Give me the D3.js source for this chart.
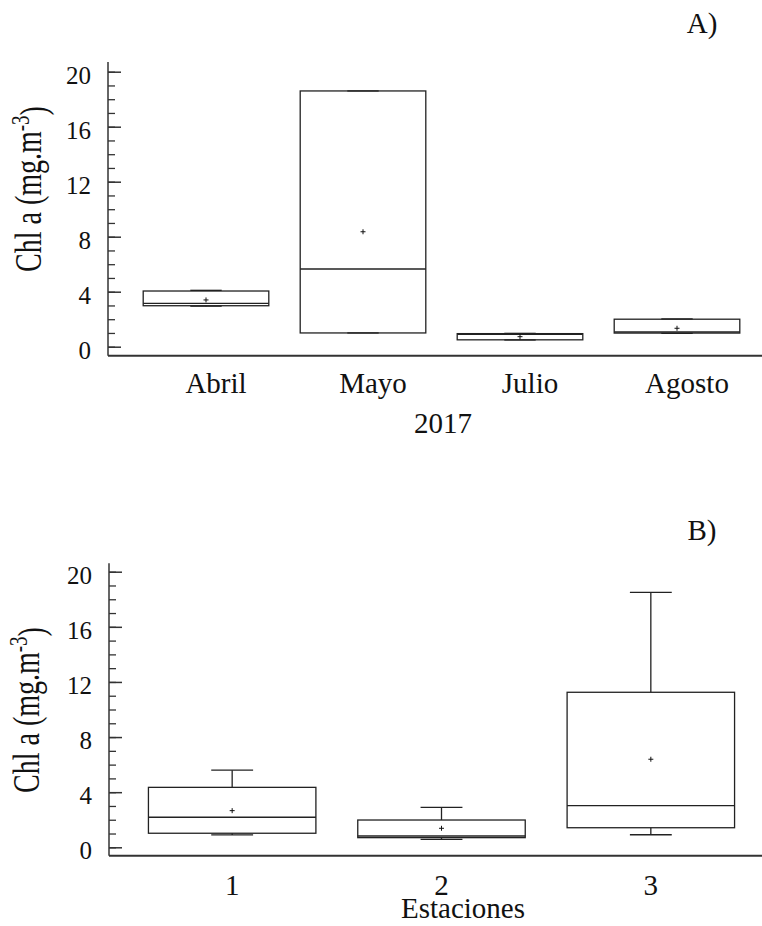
<!DOCTYPE html>
<html lang="es">
<head>
<meta charset="utf-8">
<title>Chl a</title>
<script src="https://d3js.org/d3.v7.min.js"></script>
<style>
  body { margin: 0; background: #fff; }
</style>
</head>
<body>
<div id="chart"></div>
<script>
// panel A: months of 2017
const monthCats   = ["Abril", "Mayo", "Julio", "Agosto"];
const monthMin    = [2.95, 1.0, 0.49, 0.97];
const monthQ1     = [2.98, 1.0, 0.5, 0.99];
const monthMedian = [3.15, 5.65, 0.9, 1.07];
const monthQ3     = [4.05, 18.6, 0.95, 2.0];
const monthMax    = [4.1, 18.6, 0.97, 2.02];
const monthMean   = [3.4, 8.36, 0.73, 1.34];

// panel B: stations
const stationCats   = ["1", "2", "3"];
const stationMin    = [0.9, 0.58, 0.91];
const stationQ1     = [1.02, 0.7, 1.42];
const stationMedian = [2.18, 0.82, 3.02];
const stationQ3     = [4.35, 1.98, 11.25];
const stationMax    = [5.6, 2.9, 18.5];
const stationMean   = [2.66, 1.38, 6.39];

const majorTicks = [0, 4, 8, 12, 16, 20];
const minorTicks = d3.range(0, 21, 1);

const FONT = "Liberation Serif";

const svg = d3.select("#chart")
  .append("svg")
    .attr("width", 762)
    .attr("height", 926)
    .attr("font-family", FONT);

function drawPanel(p) {
  const g = svg.append("g");

  // scales
  const y = d3.scaleLinear().domain([0, 20]).range([p.y0, p.y20]);
  const x = d3.scaleBand()
    .domain(p.cats)
    .range([127.5, 755.5])
    .paddingInner(0.2)
    .paddingOuter(0.1);

  const rows = p.cats.map((c, i) => ({
    cat: c, min: p.min[i], q1: p.q1[i], med: p.med[i], q3: p.q3[i], max: p.max[i], mean: p.mean[i]
  }));

  // axis lines
  g.append("line")
    .attr("x1", p.axisX).attr("x2", p.axisX)
    .attr("y1", p.axisTop).attr("y2", p.baseY)
    .attr("stroke", "#333").attr("stroke-width", 1.5);
  g.append("line")
    .attr("x1", p.axisX).attr("x2", 762)
    .attr("y1", p.baseY).attr("y2", p.baseY)
    .attr("stroke", "#333").attr("stroke-width", 2);

  // minor + major ticks pointing inside
  g.append("g")
    .attr("transform", `translate(${p.axisX},0)`)
    .call(d3.axisRight(y).tickValues(minorTicks).tickSize(7).tickFormat(""))
    .call(a => a.select(".domain").remove())
    .call(a => a.selectAll("line").attr("stroke", "#333").attr("stroke-width", 1.3));
  g.append("g")
    .attr("transform", `translate(${p.axisX},0)`)
    .call(d3.axisRight(y).tickValues(majorTicks).tickSize(13).tickFormat(""))
    .call(a => a.select(".domain").remove())
    .call(a => a.selectAll("line").attr("stroke", "#333").attr("stroke-width", 1.5));

  // y tick labels
  g.append("g")
    .attr("transform", `translate(${p.axisX},0)`)
    .call(d3.axisLeft(y).tickValues(majorTicks).tickSize(0).tickPadding(17))
    .attr("font-family", FONT)
    .attr("font-size", 25)
    .call(a => a.select(".domain").remove())
    .call(a => a.selectAll("text")
      .attr("font-family", FONT)
      .attr("font-size", 25)
      .attr("dy", "0.46em")
      .attr("fill", "#111"));

  // x tick labels
  g.append("g")
    .attr("transform", `translate(${p.labelShift},${p.baseY})`)
    .call(d3.axisBottom(x).tickSize(0))
    .attr("font-family", FONT)
    .attr("font-size", 29)
    .call(a => a.select(".domain").remove())
    .call(a => a.selectAll("text")
      .attr("font-family", FONT)
      .attr("font-size", 29)
      .attr("y", p.labelDy)
      .attr("dy", 0)
      .attr("fill", "#111"));

  // boxes
  const bw = x.bandwidth();
  const cap = bw * 0.25;
  const box = g.selectAll(".box").data(rows).join("g").attr("class", "box");
  const cx = d => x(d.cat) + bw / 2;
  const lineStyle = s => s.attr("stroke", "#222").attr("stroke-width", 1.3).attr("fill", "none");

  box.append("line")
    .attr("x1", cx).attr("x2", cx)
    .attr("y1", d => y(d.q3)).attr("y2", d => y(d.max))
    .call(lineStyle);
  box.append("line")
    .attr("x1", cx).attr("x2", cx)
    .attr("y1", d => y(d.q1)).attr("y2", d => y(d.min))
    .call(lineStyle);
  box.append("line")
    .attr("x1", d => cx(d) - cap / 2).attr("x2", d => cx(d) + cap / 2)
    .attr("y1", d => y(d.max)).attr("y2", d => y(d.max))
    .call(lineStyle);
  box.append("line")
    .attr("x1", d => cx(d) - cap / 2).attr("x2", d => cx(d) + cap / 2)
    .attr("y1", d => y(d.min)).attr("y2", d => y(d.min))
    .call(lineStyle);
  box.append("rect")
    .attr("x", d => x(d.cat))
    .attr("width", bw)
    .attr("y", d => y(d.q3))
    .attr("height", d => y(d.q1) - y(d.q3))
    .call(lineStyle);
  box.append("line")
    .attr("x1", d => x(d.cat)).attr("x2", d => x(d.cat) + bw)
    .attr("y1", d => y(d.med)).attr("y2", d => y(d.med))
    .call(lineStyle);
  // mean marker (small plus)
  box.append("path")
    .attr("d", d => `M${cx(d) - 2.5},${y(d.mean)}h5M${cx(d)},${y(d.mean) - 2.5}v5`)
    .attr("stroke", "#111").attr("stroke-width", 1);

  // y label
  const yl = g.append("text")
    .attr("transform", `translate(${p.ylabX},${p.ylabY}) rotate(-90) scale(1,1.35)`)
    .attr("text-anchor", "middle")
    .attr("font-family", FONT)
    .attr("font-size", 28)
    .attr("fill", "#111");
  yl.append("tspan").text("Chl a (mg.m");
  yl.append("tspan").text("-3").attr("dy", "-0.45em").attr("font-size", 19);
  yl.append("tspan").text(")").attr("dy", "0.45em");

  // x label
  g.append("text")
    .attr("x", p.xlabX).attr("y", p.xlabY)
    .attr("text-anchor", "middle")
    .attr("font-family", FONT)
    .attr("font-size", 29)
    .attr("fill", "#111")
    .text(p.xlab);

  // panel letter
  g.append("text")
    .attr("x", 702).attr("y", p.letterY)
    .attr("text-anchor", "middle")
    .attr("font-family", FONT)
    .attr("font-size", 29)
    .attr("fill", "#111")
    .text(p.letter);
}

drawPanel({
  cats: monthCats, min: monthMin, q1: monthQ1, med: monthMedian, q3: monthQ3, max: monthMax, mean: monthMean,
  y0: 346.7, y20: 71.7, axisX: 108, axisTop: 62, baseY: 355.7,
  labelShift: 10, labelDy: 37.5,
  ylabX: 41, ylabY: 189,
  xlab: "2017", xlabX: 443, xlabY: 433,
  letter: "A)", letterY: 33
});

drawPanel({
  cats: stationCats, min: stationMin, q1: stationQ1, med: stationMedian, q3: stationQ3, max: stationMax, mean: stationMean,
  y0: 847.3, y20: 571.7, axisX: 109, axisTop: 563.3, baseY: 855.7,
  labelShift: 0, labelDy: 39,
  ylabX: 39, ylabY: 710,
  xlab: "Estaciones", xlabX: 463, xlabY: 918,
  letter: "B)", letterY: 540
});
</script>
</body>
</html>
